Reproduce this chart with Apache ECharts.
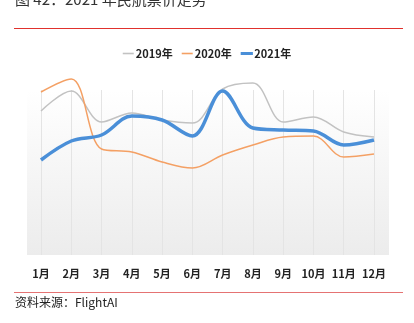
<!DOCTYPE html>
<html><head><meta charset="utf-8">
<script src="https://cdn.jsdelivr.net/npm/echarts@6/dist/echarts.min.js"></script>
<style>html,body{margin:0;padding:0;background:#fff}#c{width:414px;height:323px}</style>
</head><body><div id="c"></div>
<script>
const months = ['1月','2月','3月','4月','5月','6月','7月','8月','9月','10月','11月','12月'];
const seriesNames = ['2019年','2020年','2021年'];
const v2019 = [144, 164, 133, 142, 135, 132, 166, 172, 133, 138, 123, 118];
const v2020 = [163, 176, 106, 103, 93, 87, 100, 110, 118, 119, 98, 101];
const v2021 = [95, 114, 120, 139, 135, 119, 164, 127, 125, 124, 110, 115];
const titleText = '图 42：2021 年民航票价走势';
const sourceText = '资料来源：FlightAI';

const colors = ['#c2c2c2', '#f4a064', '#4a8fd8'];
const chart = echarts.init(document.getElementById('c'), null, {renderer:'canvas'});
const font = '"Noto Sans CJK SC", sans-serif';
chart.setOption({
  animation:false,
  backgroundColor:'#fff',
  graphic:[
    {type:'text', left:15, top:-8, style:{text:titleText, font:'15px '+font, fill:'#333'}},
    {type:'line', shape:{x1:14,y1:28.5,x2:403,y2:28.5}, style:{stroke:'#e0312d', lineWidth:1}},
    {type:'rect', shape:{x:27,y:90,width:362,height:165}, z:-10,
      style:{fill:new echarts.graphic.LinearGradient(0,0,0,1,[{offset:0,color:'#ffffff'},{offset:1,color:'#ececec'}])}},
    {type:'line', shape:{x1:14,y1:292.5,x2:403,y2:292.5}, style:{stroke:'#e57373', lineWidth:1.2}},
    {type:'text', left:15, top:296, style:{text:sourceText, font:'12px '+font, fill:'#222'}}
  ],
  legend:{
    data:[
      {name:seriesNames[0], icon:'rect'},
      {name:seriesNames[1], icon:'rect'},
      {name:seriesNames[2], icon:'rect', itemStyle:{borderColor:colors[2], borderWidth:1.2}}
    ],
    top:43, left:'center', itemWidth:11, itemHeight:1.6, itemGap:9,
    textStyle:{fontFamily:font, fontSize:11, fontWeight:'bold', color:'#222', padding:[0,0,0,-3]}
  },
  grid:{left:41, right:40, top:90, bottom:68},
  xAxis:{
    type:'category', data:months, boundaryGap:false,
    axisLine:{show:false}, axisTick:{show:false},
    axisLabel:{interval:0, fontFamily:font, fontSize:11, fontWeight:'bold', color:'#222', margin:13},
    splitLine:{show:true, interval:0, lineStyle:{color:'#e4e4e4', width:1}}
  },
  yAxis:{type:'value', min:0, max:165, show:false, splitLine:{show:false}},
  series:[
    {name:seriesNames[0], type:'line', data:v2019, smooth:0.35, symbol:'none', clip:false,
      lineStyle:{color:colors[0], width:1.5}, itemStyle:{color:colors[0]}},
    {name:seriesNames[1], type:'line', data:v2020, smooth:0.35, symbol:'none', clip:false,
      lineStyle:{color:colors[1], width:1.5}, itemStyle:{color:colors[1]}},
    {name:seriesNames[2], type:'line', data:v2021, smooth:0.35, symbol:'none', clip:false,
      lineStyle:{color:colors[2], width:3.5}, itemStyle:{color:colors[2]}}
  ]
});
</script></body></html>
